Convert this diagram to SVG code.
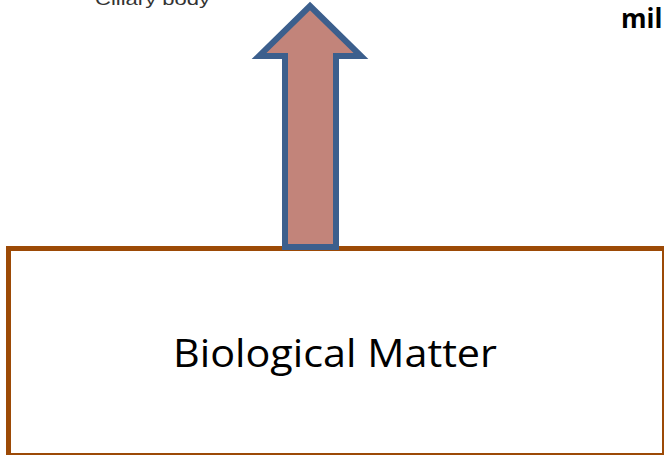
<svg xmlns="http://www.w3.org/2000/svg" width="664" height="455" viewBox="0 0 664 455">
<style>
.lbl{font-family:"Open Sans","Liberation Sans",sans-serif;fill:#000}
</style>
<rect width="664" height="455" fill="#fff"/>
<text x="95" y="5" font-family="Liberation Sans, sans-serif" font-size="17" fill="#333" textLength="115" lengthAdjust="spacingAndGlyphs">Ciliary body</text>
<text x="621" y="28" class="lbl" font-size="26" font-weight="bold">mil</text>
<g id="box">
<rect x="8.5" y="248.5" width="656" height="207" fill="#fff" stroke="#9C4A06" stroke-width="5"/>
<text x="335" y="367" class="lbl" font-size="38" text-anchor="middle" textLength="324" lengthAdjust="spacingAndGlyphs">Biological Matter</text>
</g>
<g id="connectors">
<path d="M310,6 L361,56 L336,56 L336,247 L285,247 L285,56 L259,56 Z" fill="#C2847A" stroke="#3C5F8D" stroke-width="6" stroke-linejoin="miter"/>
</g>
</svg>
